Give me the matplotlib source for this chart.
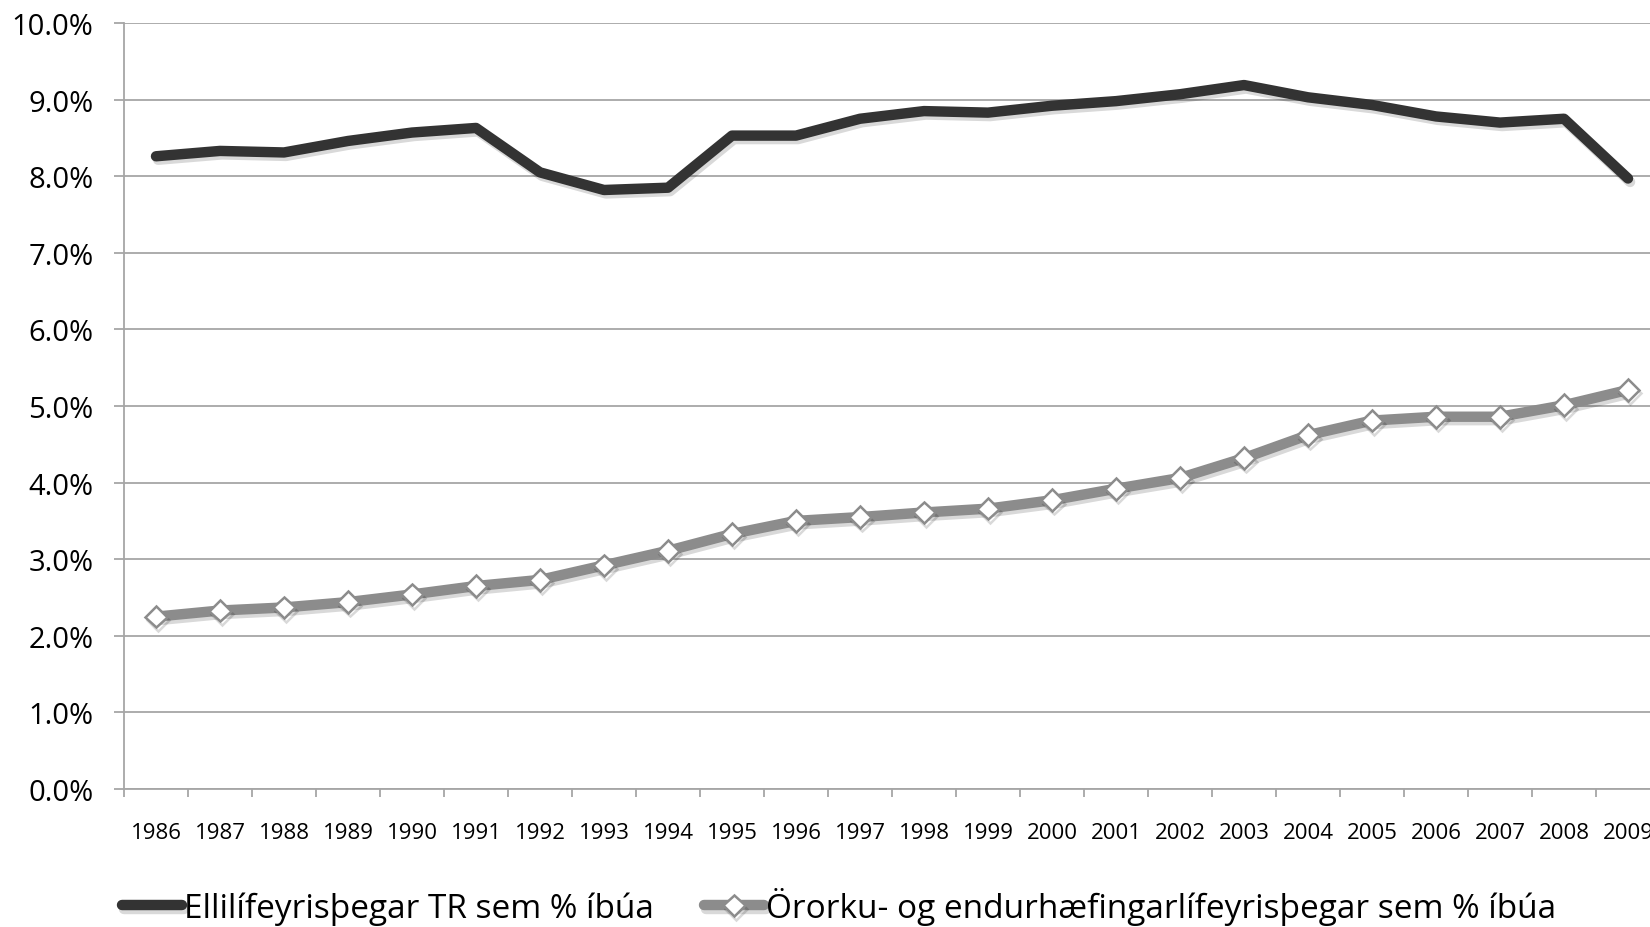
import numpy as np
import matplotlib
matplotlib.use("Agg")
import matplotlib.pyplot as plt
import matplotlib.patheffects as pe
from matplotlib.ticker import FuncFormatter, FixedLocator

plt.rcParams['font.family'] = ['Open Sans', 'DejaVu Sans']

# data
years = [str(y) for y in range(1986, 2010)]
elli = [8.26, 8.33, 8.31, 8.46, 8.57, 8.63, 8.05, 7.82, 7.85, 8.53, 8.53, 8.75,
        8.85, 8.83, 8.92, 8.98, 9.07, 9.19, 9.03, 8.93, 8.78, 8.70, 8.75, 7.97]
ororka = [2.25, 2.33, 2.37, 2.44, 2.54, 2.65, 2.73, 2.92, 3.11, 3.33, 3.50, 3.55,
          3.61, 3.66, 3.77, 3.92, 4.06, 4.32, 4.62, 4.81, 4.86, 4.86, 5.01, 5.21]
series_labels = ['Ellilífeyrisþegar TR sem % íbúa',
                 'Örorku- og endurhæfingarlífeyrisþegar sem % íbúa']

fig = plt.figure(figsize=(16.5, 9.28), dpi=100)
ax = fig.add_axes([124 / 1650, 138 / 928, 1536 / 1650, 766 / 928])

x = np.arange(len(years))
shadow = [pe.SimpleLineShadow(offset=(1.5, -2.5), alpha=0.15, shadow_color='black'), pe.Normal()]

ax.plot(x, elli, color='#333333', lw=7.5, solid_capstyle='round',
        solid_joinstyle='round', label=series_labels[0], path_effects=shadow)
ax.plot(x, ororka, color='#8c8c8c', lw=7.5, solid_capstyle='round',
        solid_joinstyle='round', marker='D', markersize=11,
        markerfacecolor='white', markeredgecolor='#8c8c8c', markeredgewidth=1.8,
        label=series_labels[1], path_effects=shadow)

ax.set_xlim(-0.5, len(years) - 0.5)
ax.set_ylim(0, 10)
ax.set_yticks(np.arange(0, 11, 1))
ax.yaxis.set_major_formatter(FuncFormatter(lambda v, p: f'{v:.1f}%'))
ax.grid(axis='y', color='#a6a6a6', lw=1.3)
ax.set_axisbelow(True)

# year labels sit in the middle of each category, tick marks on the boundaries
ax.set_xticks(x)
ax.set_xticklabels(years)
ax.xaxis.set_minor_locator(FixedLocator(np.arange(-0.5, len(years), 1)))
ax.tick_params(axis='x', which='major', length=0, pad=24, labelsize=16)
ax.tick_params(axis='x', which='minor', length=6, width=1.3, color='#a6a6a6')
ax.tick_params(axis='y', length=7, width=1.3, color='#a6a6a6', pad=15, labelsize=21)

for s in ['top', 'right']:
    ax.spines[s].set_visible(False)
for s in ['left', 'bottom']:
    ax.spines[s].set_color('#a6a6a6')
    ax.spines[s].set_linewidth(1.3)

fig.legend(loc='center', bbox_to_anchor=(839 / 1650, 21 / 928), ncol=2,
           frameon=False, fontsize=24, handlelength=1.8, handletextpad=0.05,
           columnspacing=1.5)

fig.savefig('out.png', dpi=100)
